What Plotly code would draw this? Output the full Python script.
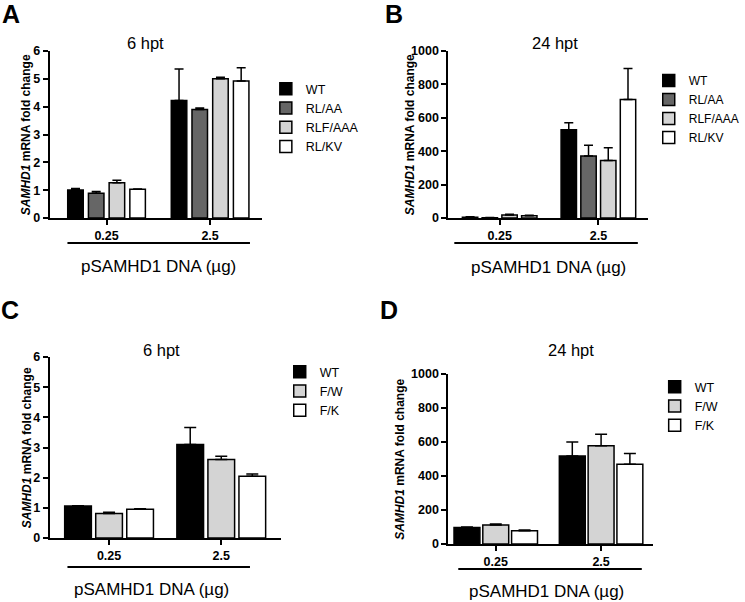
import plotly.graph_objects as go

# ---------------- data ----------------
doses = ["0.25", "2.5"]

# Panel A (6 hpt)
a_series = ["WT", "RL/AA", "RLF/AAA", "RL/KV"]
a_wt = [1.01, 4.22]
a_rlaa = [0.89, 3.90]
a_rlfaaa = [1.27, 5.00]
a_rlkv = [1.03, 4.92]
a_wt_err = [0.05, 1.13]
a_rlaa_err = [0.06, 0.05]
a_rlfaaa_err = [0.09, 0.06]
a_rlkv_err = [0.01, 0.48]

# Panel B (24 hpt)
b_wt = [5, 528]
b_rlaa = [2, 372]
b_rlfaaa = [18, 345]
b_rlkv = [14, 710]
b_wt_err = [2, 42]
b_rlaa_err = [1, 63]
b_rlfaaa_err = [4, 75]
b_rlkv_err = [3, 185]

# Panel C (6 hpt)
c_series = ["WT", "F/W", "F/K"]
c_wt = [1.06, 3.10]
c_fw = [0.81, 2.60]
c_fk = [0.95, 2.05]
c_wt_err = [0.01, 0.56]
c_fw_err = [0.04, 0.11]
c_fk_err = [0.02, 0.07]

# Panel D (24 hpt)
d_wt = [97, 518]
d_fw = [112, 578]
d_fk = [78, 469]
d_wt_err = [3, 82]
d_fw_err = [6, 68]
d_fk_err = [5, 64]

y6_ticks = [0, 1, 2, 3, 4, 5, 6]
y1000_ticks = [0, 200, 400, 600, 800, 1000]

# ---------------- styling ----------------
W, H = 745, 602
FONT = "Arial, Liberation Sans, sans-serif"
colors4 = ["#000000", "#666666", "#d4d4d4", "#ffffff"]
colors3 = ["#000000", "#d4d4d4", "#ffffff"]


def px(x):
    return x / W


def py(y):
    return 1 - y / H


fig = go.Figure()


def add_panel(idx, names, values, errs, cols, legend, group_w, bar_frac, cap):
    n = len(names)
    slot = group_w / n
    bw = slot * bar_frac
    xa = "x" if idx == 1 else f"x{idx}"
    ya = "y" if idx == 1 else f"y{idx}"
    for i, (nm, v, e, c) in enumerate(zip(names, values, errs, cols)):
        fig.add_trace(go.Bar(
            x=doses, y=v, name=nm,
            width=bw, offset=-group_w / 2 + i * slot + (slot - bw) / 2,
            marker=dict(color=c, line=dict(color="black", width=1.5)),
            error_y=dict(type="data", array=e, arrayminus=[0] * len(e),
                         symmetric=False, color="black", thickness=1.5, width=cap),
            xaxis=xa, yaxis=ya, legend=legend, showlegend=True,
        ))


add_panel(1, a_series, [a_wt, a_rlaa, a_rlfaaa, a_rlkv],
          [a_wt_err, a_rlaa_err, a_rlfaaa_err, a_rlkv_err], colors4, "legend", 0.8, 0.75, 4.5)
add_panel(2, a_series, [b_wt, b_rlaa, b_rlfaaa, b_rlkv],
          [b_wt_err, b_rlaa_err, b_rlfaaa_err, b_rlkv_err], colors4, "legend2", 0.8, 0.78, 4.5)
add_panel(3, c_series, [c_wt, c_fw, c_fk],
          [c_wt_err, c_fw_err, c_fk_err], colors3, "legend3", 0.83, 0.86, 6)
add_panel(4, c_series, [d_wt, d_fw, d_fk],
          [d_wt_err, d_fw_err, d_fk_err], colors3, "legend4", 0.82, 0.9, 6)

tickfont = dict(family=FONT, size=12.5, color="black", weight="bold")


def xaxis(dom, rng, anchor):
    return dict(domain=[px(dom[0]), px(dom[1])], range=rng, type="category",
                anchor=anchor, showline=True, linecolor="black", linewidth=2,
                ticks="outside", ticklen=5, tickwidth=1.5, tickcolor="black",
                showgrid=False, zeroline=False, tickfont=tickfont, fixedrange=True,
                automargin=False)


def yaxis(dom, rng, vals, anchor):
    return dict(domain=[py(dom[1]), py(dom[0])], range=rng, anchor=anchor,
                tickvals=vals, ticktext=[str(v) for v in vals],
                showline=True, linecolor="black", linewidth=2,
                ticks="outside", ticklen=5, tickwidth=2, tickcolor="black",
                showgrid=False, zeroline=False, tickfont=tickfont, fixedrange=True,
                automargin=False)


legend_common = dict(font=dict(family=FONT, size=12.5, color="black"),
                     bgcolor="rgba(0,0,0,0)", borderwidth=0,
                     xanchor="left", yanchor="top", tracegroupgap=0,
                     traceorder="normal")

fig.update_layout(
    template="none",
    width=W, height=H, autosize=False,
    margin=dict(l=0, r=0, t=0, b=0, pad=0),
    paper_bgcolor="white", plot_bgcolor="white",
    barmode="overlay",
    font=dict(family=FONT, color="black"),
    xaxis=xaxis((50, 264), [-0.55, 1.5], "y"),
    yaxis=yaxis((51, 218), [0, 6], y6_ticks, "x"),
    xaxis2=xaxis((452, 653), [-0.52, 1.5], "y2"),
    yaxis2=yaxis((51, 218), [0, 1000], y1000_ticks, "x2"),
    xaxis3=xaxis((50, 283), [-0.53, 1.53], "y3"),
    yaxis3=yaxis((357, 538), [0, 6], y6_ticks, "x3"),
    xaxis4=xaxis((452, 658), [-0.45, 1.49], "y4"),
    yaxis4=yaxis((374, 544), [0, 1000], y1000_ticks, "x4"),
    legend=dict(x=px(268), y=py(74), **legend_common),
    legend2=dict(x=px(654), y=py(66), **{**legend_common, "font": dict(family=FONT, size=12, color="black")}),
    legend3=dict(x=px(282), y=py(357), **legend_common),
    legend4=dict(x=px(660), y=py(372), **legend_common),
)

ann = []


def text(x, y, s, size, bold=False, angle=0):
    ann.append(dict(x=px(x), y=py(y), xref="paper", yref="paper", text=s,
                    showarrow=False, xanchor="center", yanchor="middle",
                    textangle=angle,
                    font=dict(family=FONT, size=size, color="black",
                              weight="bold" if bold else "normal")))


# panel letters
for (lx, ly, s) in [(11, 14, "A"), (397, 14, "B"), (10, 310, "C"), (392, 310, "D")]:
    text(lx, ly, s, 25, bold=True)
# panel titles
text(147, 43, "6 hpt", 16.5)
text(560, 43, "24 hpt", 16.5)
text(163, 350, "6 hpt", 16.5)
text(576, 350, "24 hpt", 16.5)
# x labels
xlab = "pSAMHD1 DNA (µg)"
text(160, 266, xlab, 17)
text(553, 267, xlab, 17)
text(153, 589, xlab, 17)
text(551, 591, xlab, 17)
# y titles
ylab = "<i>SAMHD1</i> mRNA fold change"
text(26, 134.5, ylab, 12, bold=True, angle=-90)
text(413, 134.5, ylab, 12, bold=True, angle=-90)
text(27.5, 448, ylab, 12, bold=True, angle=-90)
text(403, 459, ylab, 12, bold=True, angle=-90)

fig.update_layout(annotations=ann)

# bracket lines under the dose labels
shapes = []
for (x0, x1, y) in [(68, 252, 243), (458, 643, 243), (68, 252, 567), (462, 647, 569)]:
    shapes.append(dict(type="line", xref="paper", yref="paper",
                       x0=px(x0), x1=px(x1), y0=py(y), y1=py(y),
                       line=dict(color="black", width=2)))
fig.update_layout(shapes=shapes)

fig.write_html(
    "out.html",
    config={"displayModeBar": False},
    post_script="document.body.style.margin='0';document.body.style.overflow='hidden';",
)
